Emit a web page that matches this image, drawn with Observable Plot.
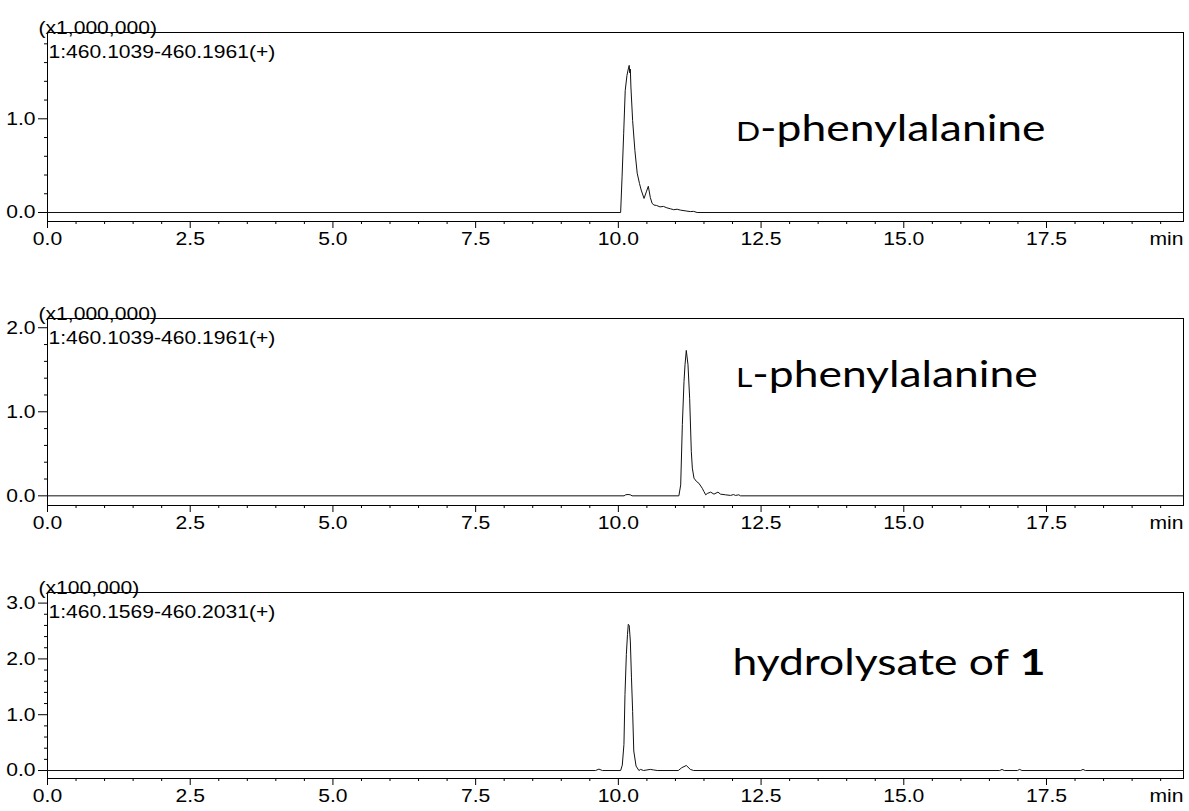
<!DOCTYPE html>
<html><head><meta charset="utf-8">
<script src="https://cdn.jsdelivr.net/npm/d3@7"></script>
<script src="https://cdn.jsdelivr.net/npm/@observablehq/plot@0.6"></script>
<style>
body{margin:0;background:#fff;}
#chart svg{display:block;}
</style></head><body><div id="chart"></div>
<script>
// ---------- data ----------
const timeD = [0, 10.04, 10.065, 10.093, 10.12, 10.15, 10.17, 10.19, 10.20, 10.21, 10.22, 10.25, 10.29, 10.33, 10.37, 10.40, 10.45, 10.49, 10.525, 10.56, 10.59, 10.62, 10.67, 10.73, 10.79, 10.85, 10.91, 10.97, 11.03, 11.09, 11.15, 11.20, 11.26, 11.32, 11.38, 19.9];
const intD  = [0, 0, 0.38, 0.84, 1.30, 1.46, 1.52, 1.57, 1.49, 1.53, 1.34, 0.98, 0.66, 0.42, 0.31, 0.24, 0.15, 0.22, 0.28, 0.16, 0.10, 0.08, 0.075, 0.06, 0.065, 0.05, 0.04, 0.03, 0.035, 0.025, 0.02, 0.015, 0.01, 0.012, 0, 0];

const timeL = [0, 10.10, 10.13, 10.17, 10.21, 10.24, 11.06, 11.092, 11.121, 11.15, 11.168, 11.19, 11.22, 11.249, 11.278, 11.296, 11.325, 11.37, 11.41, 11.47, 11.50, 11.53, 11.558, 11.617, 11.675, 11.745, 11.79, 11.877, 11.965, 12.02, 12.05, 12.11, 12.14, 19.9];
const intL  = [0, 0, 0.013, 0.016, 0.012, 0, 0, 0.13, 0.85, 1.36, 1.56, 1.73, 1.56, 1.16, 0.53, 0.33, 0.21, 0.17, 0.15, 0.09, 0.05, 0.012, 0.028, 0.044, 0.02, 0.044, 0.02, 0.012, 0.005, 0.015, 0.005, 0.012, 0, 0];

const timeH = [0, 9.60, 9.66, 9.72, 10.04, 10.069, 10.098, 10.116, 10.14, 10.16, 10.174, 10.19, 10.21, 10.23, 10.25, 10.27, 10.31, 10.36, 10.39, 10.44, 10.50, 10.56, 10.62, 10.68, 11.05, 11.11, 11.19, 11.26, 11.32, 16.68, 16.72, 16.76, 16.99, 17.03, 17.07, 18.10, 18.14, 18.18, 19.9];
const intH  = [0, 0, 0.025, 0, 0, 0.096, 0.47, 1.36, 2.08, 2.44, 2.62, 2.60, 2.32, 1.66, 1.06, 0.35, 0.08, 0.0, 0.02, 0, 0.01, 0.02, 0.01, 0, 0, 0.05, 0.09, 0.02, 0, 0, 0.02, 0, 0, 0.02, 0, 0, 0.02, 0, 0];

const scaleLabels = ["(x1,000,000)", "(x1,000,000)", "(x100,000)"];
const mzLabels = ["1:460.1039-460.1961(+)", "1:460.1039-460.1961(+)", "1:460.1569-460.2031(+)"];
const labelSmall = ["D", "L", ""];
const labelMain = ["-phenylalanine", "-phenylalanine", "hydrolysate of "];
const labelBold = ["", "", "1"];
const unitLabel = "min";

const xMajorTicks = [0, 2.5, 5, 7.5, 10, 12.5, 15, 17.5];
const xMinorTicks = [0.5, 1, 1.5, 2, 3, 3.5, 4, 4.5, 5.5, 6, 6.5, 7, 8, 8.5, 9, 9.5, 10.5, 11, 11.5, 12, 13, 13.5, 14, 14.5, 15.5, 16, 16.5, 17, 18, 18.5, 19, 19.5];
const yMajorD = [0, 1];
const yMinorD = [0.2, 0.4, 0.6, 0.8, 1.2, 1.4, 1.6, 1.8];
const yMajorL = [0, 1, 2];
const yMinorL = [0.2, 0.4, 0.6, 0.8, 1.2, 1.4, 1.6, 1.8];
const yMajorH = [0, 1, 2, 3];
const yMinorH = [0.2, 0.4, 0.6, 0.8, 1.2, 1.4, 1.6, 1.8, 2.2, 2.4, 2.6, 2.8];

// ---------- layout / style ----------
const AXIS_FONT = "'Liberation Sans', Arial, sans-serif";
const AXIS_STRETCH = 1.14;
const LABEL_STRETCH = 1.2;
const LABEL_SIZE = 37;
const SMALLCAP_SIZE = 26.5;

const panels = [
  {t: timeD, v: intD, yDomain: [-0.096, 1.921], yMajor: yMajorD, yMinor: yMinorD, marginTop: 32, marginBottom: 40, inner: 189, labX: 12.06, labY: 0.89},
  {t: timeL, v: intL, yDomain: [-0.115, 2.11],  yMajor: yMajorL, yMinor: yMinorL, marginTop: 57, marginBottom: 40, inner: 187, labX: 12.06, labY: 1.438},
  {t: timeH, v: intH, yDomain: [-0.143, 3.19],  yMajor: yMajorH, yMinor: yMinorH, marginTop: 47, marginBottom: 33, inner: 186, labX: 12.0, labY: 1.915}
];

const container = document.getElementById("chart");
const SVGNS = "http://www.w3.org/2000/svg";
const f1 = d3.format(".1f");

panels.forEach((p, i) => {
  const data = p.t.map((t, k) => ({t, v: p.v[k]}));
  const full = labelSmall[i] + labelMain[i] + labelBold[i];
  const svg = Plot.plot({
    width: 1189,
    height: p.marginTop + p.inner + p.marginBottom,
    marginLeft: 47,
    marginRight: 6,
    marginTop: p.marginTop,
    marginBottom: p.marginBottom,
    style: {fontFamily: AXIS_FONT, fontSize: "18.5px", background: "#fff", color: "#000", overflow: "visible"},
    x: {domain: [0, 19.9]},
    y: {domain: p.yDomain},
    marks: [
      Plot.frame({stroke: "#000"}),
      Plot.axisX({ticks: xMinorTicks, tickSize: 3, tickFormat: () => "", label: null}),
      Plot.axisX({ticks: xMajorTicks, tickSize: 7, tickPadding: 3, tickFormat: f1, label: null}),
      Plot.axisY({ticks: p.yMinor, tickSize: 3, tickFormat: () => "", label: null}),
      Plot.axisY({ticks: p.yMajor, tickSize: 9, tickPadding: 3, tickFormat: f1, label: null}),
      Plot.line(data, {x: "t", y: "v", stroke: "#111", strokeWidth: 1}),
      Plot.text([scaleLabels[i]], {text: d => d, frameAnchor: "top-left", textAnchor: "start", dx: -9, dy: -12}),
      Plot.text([mzLabels[i]], {text: d => d, frameAnchor: "top-left", textAnchor: "start", dx: 1, dy: 12}),
      Plot.text([unitLabel], {text: d => d, frameAnchor: "bottom-right", textAnchor: "end", lineAnchor: "top", dy: 10}),
      Plot.text([{x: p.labX, y: p.labY, s: full}], {x: "x", y: "y", text: "s", textAnchor: "start", fontFamily: "Lato, 'Open Sans', sans-serif", fontSize: LABEL_SIZE, fill: "#000"})
    ]
  });
  container.appendChild(svg);

  // rich text label (small-cap prefix, bold suffix)
  svg.querySelectorAll("text").forEach(t => {
    if (t.textContent === full) {
      t.textContent = "";
      if (labelSmall[i]) {
        const s = document.createElementNS(SVGNS, "tspan");
        s.setAttribute("font-size", SMALLCAP_SIZE);
        s.textContent = labelSmall[i];
        t.appendChild(s);
      }
      const m = document.createElementNS(SVGNS, "tspan");
      m.textContent = labelMain[i];
      t.appendChild(m);
      if (labelBold[i]) {
        const b = document.createElementNS(SVGNS, "tspan");
        b.setAttribute("font-weight", "bold");
        b.textContent = labelBold[i];
        t.appendChild(b);
      }
      t.dataset.big = "1";
    }
  });
  // horizontal stretch matching the reference's aspect
  svg.querySelectorAll("text").forEach(t => {
    if (!t.textContent) return;
    const w = t.getComputedTextLength();
    const k = t.dataset.big ? LABEL_STRETCH : AXIS_STRETCH;
    t.setAttribute("textLength", (w * k).toFixed(1));
    t.setAttribute("lengthAdjust", "spacingAndGlyphs");
  });
});
</script>
</body></html>
